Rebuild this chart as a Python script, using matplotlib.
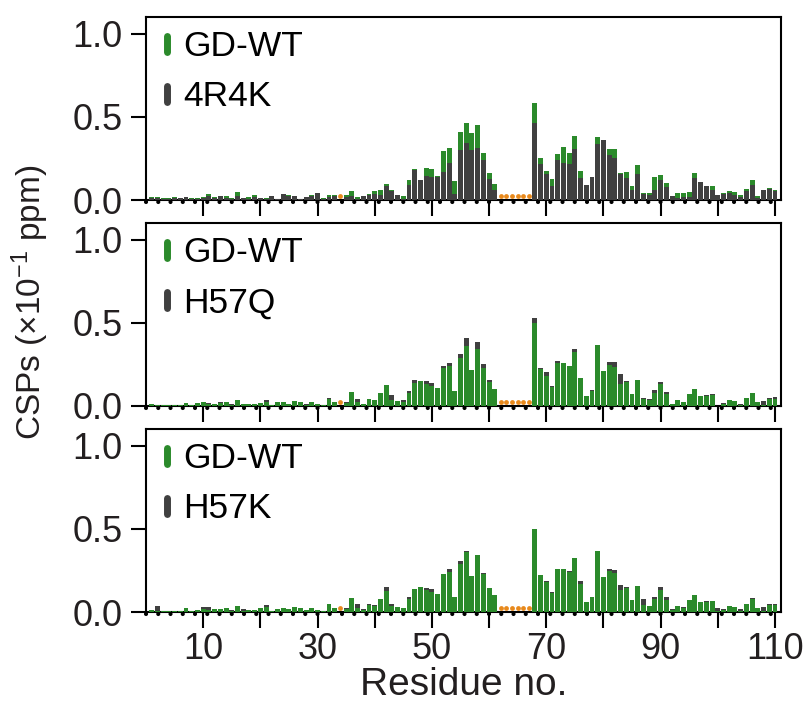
import numpy as np
import matplotlib
matplotlib.use('Agg')
import matplotlib.pyplot as plt
from matplotlib.lines import Line2D
from matplotlib.markers import MarkerStyle

plt.rcParams['font.family'] = ['Liberation Sans', 'DejaVu Sans']
plt.rcParams['mathtext.default'] = 'regular'

residues = np.arange(1, 111)
missing = [34, 62, 63, 64, 65, 66, 67]   # unassigned residues (orange dots)
nan = None

# panel 1: GD-WT vs 4R4K
wt_1 = [0.018, 0.018, 0.012, 0.012, 0.018, 0.010, 0.018, 0.012, 0.012, 0.018,
        0.036, 0.018, 0.024, 0.024, 0.012, 0.048, 0.014, 0.016, 0.030, 0.012,
        0.012, 0.024, 0.006, 0.036, 0.030, 0.024, 0.006, 0.018, 0.030, 0.042,
        0.012, 0.030, 0.030, nan, 0.030, 0.054, 0.018, 0.024, 0.036, 0.054,
        0.060, 0.096, 0.060, 0.030, 0.024, 0.120, 0.187, 0.110, 0.193, 0.187,
        0.145, 0.295, 0.313, 0.114, 0.410, 0.464, 0.404, 0.452, 0.283, 0.163,
        0.096, nan, nan, nan, nan, nan, nan, 0.584, 0.253, 0.175,
        0.127, 0.277, 0.319, 0.283, 0.385, 0.175, 0.080, 0.130, 0.380, 0.350,
        0.307, 0.307, 0.163, 0.169, 0.084, 0.211, 0.042, 0.042, 0.139, 0.151,
        0.102, 0.020, 0.042, 0.042, 0.048, 0.163, 0.100, 0.080, 0.084, 0.025,
        0.042, 0.054, 0.048, 0.030, 0.066, 0.120, 0.024, 0.055, 0.072, 0.060]
mut_1 = [0.010, 0.010, 0.006, 0.006, 0.010, 0.010, 0.018, 0.006, 0.006, 0.010,
         0.024, 0.012, 0.024, 0.012, 0.006, 0.024, 0.014, 0.008, 0.018, 0.010,
         0.006, 0.024, 0.006, 0.036, 0.024, 0.024, 0.006, 0.018, 0.024, 0.042,
         0.006, 0.018, 0.024, nan, 0.018, 0.024, 0.004, 0.024, 0.030, 0.036,
         0.030, 0.084, 0.054, 0.030, 0.004, 0.090, 0.181, 0.120, 0.145, 0.139,
         0.139, 0.169, 0.223, 0.036, 0.301, 0.343, 0.301, 0.313, 0.241, 0.127,
         0.060, nan, nan, nan, nan, nan, nan, 0.464, 0.217, 0.157,
         0.084, 0.241, 0.223, 0.217, 0.307, 0.133, 0.090, 0.139, 0.337, 0.361,
         0.271, 0.253, 0.159, 0.133, 0.060, 0.157, 0.036, 0.030, 0.060, 0.120,
         0.078, 0.024, 0.012, 0.018, 0.018, 0.133, 0.108, 0.084, 0.060, 0.030,
         0.036, 0.042, 0.030, 0.018, 0.054, 0.090, 0.012, 0.060, 0.066, 0.054]

# panel 2: GD-WT vs H57Q
wt_2 = [0.012, 0.004, 0.004, 0.004, 0.004, 0.004, 0.018, 0.004, 0.018, 0.024,
        0.012, 0.012, 0.018, 0.024, 0.006, 0.036, 0.012, 0.012, 0.012, 0.018,
        0.024, 0.004, 0.024, 0.024, 0.012, 0.030, 0.024, 0.006, 0.024, 0.012,
        0.004, 0.042, 0.024, nan, 0.018, 0.084, 0.024, 0.012, 0.042, 0.036,
        0.078, 0.127, 0.036, 0.030, 0.024, 0.078, 0.139, 0.151, 0.133, 0.120,
        0.108, 0.229, 0.241, 0.090, 0.289, 0.361, 0.217, 0.343, 0.229, 0.145,
        0.102, nan, nan, nan, nan, nan, nan, 0.500, 0.225, 0.181,
        0.114, 0.259, 0.259, 0.241, 0.325, 0.169, 0.060, 0.090, 0.367, 0.211,
        0.247, 0.235, 0.133, 0.145, 0.072, 0.157, 0.042, 0.036, 0.078, 0.133,
        0.072, 0.012, 0.036, 0.024, 0.072, 0.102, 0.060, 0.060, 0.066, 0.002,
        0.012, 0.036, 0.030, 0.006, 0.048, 0.078, 0.024, 0.004, 0.042, 0.042]
mut_2 = [0.010, 0.006, 0.004, 0.004, 0.004, 0.004, 0.012, 0.004, 0.018, 0.020,
         0.018, 0.010, 0.024, 0.020, 0.012, 0.030, 0.010, 0.010, 0.010, 0.015,
         0.036, 0.004, 0.024, 0.020, 0.010, 0.025, 0.020, 0.012, 0.020, 0.010,
         0.004, 0.048, 0.020, nan, 0.024, 0.070, 0.042, 0.010, 0.035, 0.030,
         0.070, 0.110, 0.066, 0.025, 0.036, 0.090, 0.157, 0.140, 0.151, 0.139,
         0.100, 0.241, 0.259, 0.080, 0.313, 0.410, 0.200, 0.386, 0.253, 0.157,
         0.090, nan, nan, nan, nan, nan, nan, 0.530, 0.229, 0.205,
         0.120, 0.271, 0.240, 0.230, 0.343, 0.150, 0.050, 0.096, 0.340, 0.200,
         0.265, 0.265, 0.193, 0.151, 0.060, 0.140, 0.048, 0.042, 0.096, 0.145,
         0.084, 0.010, 0.030, 0.020, 0.060, 0.090, 0.050, 0.066, 0.072, 0.006,
         0.018, 0.030, 0.025, 0.012, 0.040, 0.070, 0.020, 0.030, 0.048, 0.054]

# panel 3: GD-WT vs H57K
wt_3 = [0.010, 0.006, 0.004, 0.008, 0.008, 0.006, 0.022, 0.004, 0.014, 0.018,
        0.010, 0.016, 0.016, 0.022, 0.006, 0.034, 0.008, 0.010, 0.010, 0.022,
        0.028, 0.004, 0.016, 0.022, 0.016, 0.028, 0.022, 0.010, 0.022, 0.010,
        0.004, 0.046, 0.022, nan, 0.016, 0.082, 0.022, 0.010, 0.040, 0.034,
        0.076, 0.124, 0.034, 0.028, 0.022, 0.076, 0.137, 0.149, 0.131, 0.118,
        0.106, 0.227, 0.239, 0.088, 0.287, 0.359, 0.215, 0.341, 0.227, 0.143,
        0.100, nan, nan, nan, nan, nan, nan, 0.498, 0.221, 0.179,
        0.112, 0.257, 0.257, 0.239, 0.323, 0.167, 0.058, 0.088, 0.365, 0.209,
        0.245, 0.233, 0.131, 0.143, 0.070, 0.155, 0.040, 0.034, 0.076, 0.131,
        0.070, 0.010, 0.034, 0.022, 0.070, 0.100, 0.058, 0.058, 0.064, 0.004,
        0.010, 0.034, 0.028, 0.004, 0.046, 0.076, 0.022, 0.004, 0.040, 0.040]
mut_3 = [0.008, 0.034, 0.004, 0.008, 0.006, 0.006, 0.018, 0.004, 0.012, 0.028,
         0.028, 0.014, 0.014, 0.018, 0.010, 0.030, 0.016, 0.008, 0.008, 0.018,
         0.040, 0.004, 0.014, 0.018, 0.020, 0.024, 0.018, 0.008, 0.018, 0.008,
         0.004, 0.044, 0.018, nan, 0.022, 0.070, 0.046, 0.016, 0.046, 0.040,
         0.070, 0.149, 0.046, 0.024, 0.018, 0.088, 0.120, 0.130, 0.143, 0.137,
         0.090, 0.200, 0.257, 0.080, 0.305, 0.365, 0.190, 0.300, 0.233, 0.120,
         0.090, nan, nan, nan, nan, nan, nan, 0.450, 0.200, 0.185,
         0.118, 0.230, 0.230, 0.245, 0.300, 0.185, 0.050, 0.080, 0.330, 0.190,
         0.257, 0.251, 0.161, 0.149, 0.060, 0.140, 0.076, 0.030, 0.088, 0.149,
         0.088, 0.016, 0.030, 0.028, 0.060, 0.090, 0.050, 0.064, 0.060, 0.022,
         0.016, 0.030, 0.024, 0.016, 0.040, 0.082, 0.020, 0.028, 0.046, 0.046]

mutants = ['4R4K', 'H57Q', 'H57K']
wt_front = [False, True, True]   # which series is drawn on top

GREEN = '#2b8a2b'
DARK = '#404040'
ORANGE = '#e8891c'
INK = '#231f20'

fig = plt.figure(figsize=(8.06, 7.07), dpi=100)
W, H = 806.0, 707.0
left, right = 146, 780.7
panel_bottoms = [200, 406, 612]
panel_h = 183

panels = [(wt_1, mut_1), (wt_2, mut_2), (wt_3, mut_3)]
for i, (wt, mut) in enumerate(panels):
    ax = fig.add_axes([left / W, 1 - panel_bottoms[i] / H, (right - left) / W, panel_h / H])
    wt = np.array(wt, dtype=float)
    mut = np.array(mut, dtype=float)
    if wt_front[i]:
        ax.bar(residues, mut, width=0.86, color=DARK, linewidth=0, zorder=2)
        ax.bar(residues, wt, width=0.86, color=GREEN, linewidth=0, zorder=3)
    else:
        ax.bar(residues, wt, width=0.86, color=GREEN, linewidth=0, zorder=2)
        ax.bar(residues, mut, width=0.86, color=DARK, linewidth=0, zorder=3)

    ax.scatter(missing, [0.027] * len(missing), s=12, color=ORANGE, zorder=4, linewidths=0)
    # dotted baseline just below the axis
    ax.axhline(-0.014, color='black', lw=3, ls=(0, (0.01, 2.93)),
               dash_capstyle='round', clip_on=False, zorder=5)

    ax.set_xlim(0, 111)
    ax.set_ylim(0, 1.1)
    ax.set_yticks([0, 0.5, 1.0])
    ax.set_yticklabels(['0.0', '0.5', '1.0'])
    ax.set_xticks(np.arange(10, 111, 10))
    if i == 2:
        ax.set_xticklabels(['10', '', '30', '', '50', '', '70', '', '90', '', '110'])
        ax.set_xlabel('Residue no.', fontsize=28, color=INK, labelpad=0)
    else:
        ax.set_xticklabels([])
    ax.tick_params(axis='both', direction='out', length=11.5, width=1.5,
                   labelsize=26, labelcolor=INK, pad=3)
    ax.tick_params(axis='y', length=11, pad=6)
    for sp in ax.spines.values():
        sp.set_linewidth(1.5)

    handles = [Line2D([], [], ls='none', marker=MarkerStyle('|', capstyle='round'),
                      markersize=11, markeredgewidth=5, color=c) for c in (GREEN, DARK)]
    ax.legend(handles, ['GD-WT', mutants[i]], loc='upper left', frameon=False,
              fontsize=25.5, handlelength=0.45, handletextpad=0.21,
              labelspacing=0.48, borderaxespad=0.05, borderpad=0.33)

fig.text(30 / W, 1 - 302 / H, 'CSPs (×10$^{-1}$ ppm)', rotation=90, fontsize=24,
         color=INK, ha='center', va='center')

fig.savefig('out.png', dpi=100)
